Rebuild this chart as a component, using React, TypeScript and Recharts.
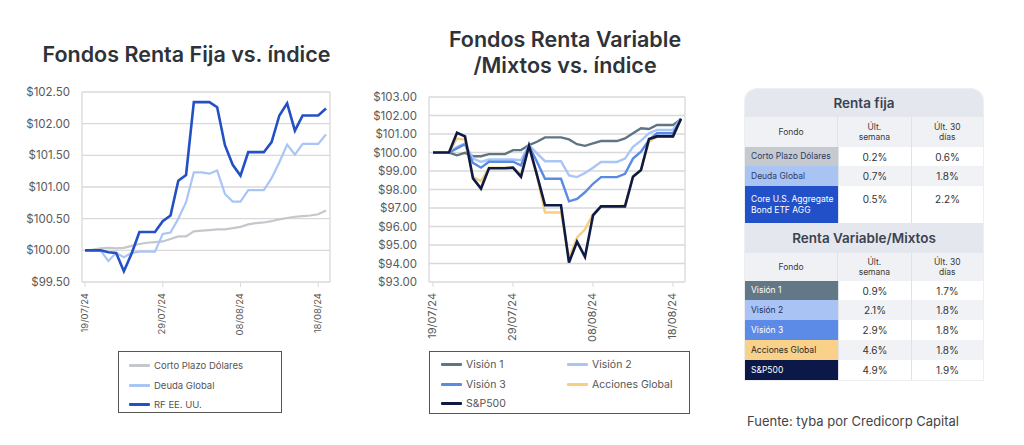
import React from "react";
import { LineChart, Line, XAxis, YAxis, CartesianGrid } from "recharts";

const FONT = "Inter, 'Noto Sans', sans-serif";

const dates = [
  "19/07/24", "20/07/24", "21/07/24", "22/07/24", "23/07/24", "24/07/24", "25/07/24", "26/07/24",
  "27/07/24", "28/07/24", "29/07/24", "30/07/24", "31/07/24", "01/08/24", "02/08/24", "03/08/24",
  "04/08/24", "05/08/24", "06/08/24", "07/08/24", "08/08/24", "09/08/24", "10/08/24", "11/08/24",
  "12/08/24", "13/08/24", "14/08/24", "15/08/24", "16/08/24", "17/08/24", "18/08/24", "19/08/24",
];

// Renta fija
const cortoPlazo = [100.0, 100.01, 100.03, 100.04, 100.03, 100.04, 100.07, 100.1, 100.12, 100.13, 100.14, 100.18, 100.22, 100.22, 100.3, 100.31, 100.32, 100.33, 100.33, 100.35, 100.37, 100.41, 100.43, 100.44, 100.46, 100.49, 100.51, 100.53, 100.54, 100.55, 100.57, 100.63];
const deudaGlobal = [100.0, 100.0, 100.0, 99.83, 99.96, 99.89, 99.96, 99.98, 99.98, 99.98, 100.26, 100.28, 100.5, 100.76, 101.23, 101.23, 101.21, 101.26, 100.89, 100.77, 100.77, 100.95, 100.95, 100.95, 101.14, 101.39, 101.67, 101.51, 101.68, 101.68, 101.68, 101.83];
const rfEEUU = [100.0, 100.0, 100.0, 99.97, 99.96, 99.67, 99.95, 100.29, 100.29, 100.29, 100.46, 100.55, 101.1, 101.19, 102.34, 102.34, 102.34, 102.26, 101.66, 101.35, 101.18, 101.55, 101.55, 101.55, 101.71, 102.13, 102.32, 101.89, 102.13, 102.13, 102.13, 102.24];

// Renta variable / mixtos
const vision1 = [100.0, 100.0, 100.0, 99.85, 99.98, 99.8, 99.8, 99.91, 99.91, 99.91, 100.13, 100.13, 100.4, 100.58, 100.82, 100.82, 100.82, 100.71, 100.45, 100.36, 100.49, 100.62, 100.62, 100.62, 100.76, 101.04, 101.31, 101.27, 101.49, 101.49, 101.49, 101.8];
const vision2 = [100.0, 100.0, 100.0, 100.31, 100.49, 99.67, 99.49, 99.62, 99.62, 99.62, 99.62, 99.58, 100.4, 99.95, 99.53, 99.53, 99.53, 98.76, 98.67, 98.89, 99.18, 99.49, 99.49, 99.49, 99.67, 100.31, 100.64, 101.04, 101.22, 101.22, 101.22, 101.85];
const vision3 = [100.0, 100.0, 100.0, 100.22, 100.45, 99.44, 99.18, 99.5, 99.5, 99.5, 99.5, 99.3, 100.35, 99.5, 98.58, 98.58, 98.58, 97.36, 97.49, 97.85, 98.31, 98.67, 98.67, 98.67, 98.85, 99.67, 100.04, 100.67, 101.04, 101.04, 101.04, 101.8];
const accionesGlobal = [100.0, 100.0, 100.0, 100.76, 100.7, 98.67, 98.45, 99.18, 99.18, 99.18, 99.18, 98.8, 100.3, 98.7, 96.76, 96.76, 96.76, 94.3, 95.4, 95.85, 96.67, 97.07, 97.07, 97.07, 97.15, 98.7, 99.05, 100.58, 100.85, 100.85, 100.85, 101.8];
const sp500 = [100.0, 100.0, 100.0, 101.07, 100.87, 98.6, 98.05, 99.15, 99.15, 99.15, 99.18, 98.69, 100.36, 98.78, 97.15, 97.15, 97.15, 94.05, 95.18, 94.36, 96.6, 97.09, 97.09, 97.09, 97.09, 98.69, 99.05, 100.73, 100.87, 100.87, 100.87, 101.82];

const rfTicks = [99.5, 100, 100.5, 101, 101.5, 102, 102.5];
const rvTicks = [93, 94, 95, 96, 97, 98, 99, 100, 101, 102, 103];

const rfSeries = [
  { key: "corto", name: "Corto Plazo Dólares", values: cortoPlazo, color: "#c4c8cd", width: 2.2 },
  { key: "deuda", name: "Deuda Global", values: deudaGlobal, color: "#a9c5f6", width: 2.2 },
  { key: "rf", name: "RF EE. UU.", values: rfEEUU, color: "#2450c6", width: 2.6 },
];
const rvSeries = [
  { key: "v1", name: "Visión 1", values: vision1, color: "#5f7583", width: 2.4 },
  { key: "v2", name: "Visión 2", values: vision2, color: "#a9c6f7", width: 2.4 },
  { key: "v3", name: "Visión 3", values: vision3, color: "#5a8ae4", width: 2.4 },
  { key: "ag", name: "Acciones Global", values: accionesGlobal, color: "#f8cf80", width: 2.4 },
  { key: "sp", name: "S&P500", values: sp500, color: "#0c1a44", width: 2.6 },
];

const rfData = dates.map((d, i) => {
  const row: any = { date: d };
  rfSeries.forEach((s) => (row[s.key] = s.values[i]));
  return row;
});
const rvData = dates.map((d, i) => {
  const row: any = { date: d };
  rvSeries.forEach((s) => (row[s.key] = s.values[i]));
  return row;
});

// Table data
const rfFunds = ["Corto Plazo Dólares", "Deuda Global", "Core U.S. Aggregate Bond ETF AGG"];
const rfWeek = ["0.2%", "0.7%", "0.5%"];
const rf30 = ["0.6%", "1.8%", "2.2%"];
const rfFundColors = ["#c5cad1", "#a9c3f3", "#2150c8"];
const rfFundText = ["#2c3b66", "#2c3b66", "#ffffff"];
const rfRowHeights = [19, 20, 37];

const rvFunds = ["Visión 1", "Visión 2", "Visión 3", "Acciones Global", "S&P500"];
const rvWeek = ["0.9%", "2.1%", "2.9%", "4.6%", "4.9%"];
const rv30 = ["1.7%", "1.8%", "1.8%", "1.8%", "1.9%"];
const rvFundColors = ["#627886", "#a9c4f4", "#5b8be6", "#f9d189", "#0b1848"];
const rvFundText = ["#ffffff", "#1f2d58", "#ffffff", "#2a2a2a", "#ffffff"];
const rvRowHeights = [19, 20, 20, 20, 20];

const YTick = (props: any) => {
  const { x, y, payload } = props;
  return (
    <text x={x - 12} y={y} textAnchor="end" dominantBaseline="central" fontSize={11.5} fill="#5a5a5a" fontFamily={FONT}>
      {"$" + Number(payload.value).toFixed(2)}
    </text>
  );
};

const makeXTick = (fs: number) => (props: any) => {
  const { x, y, payload } = props;
  const y0 = y + 6;
  return (
    <text
      x={x - 1}
      y={y0}
      transform={`rotate(-90 ${x - 1} ${y0})`}
      textAnchor="end"
      dominantBaseline="central"
      fontSize={fs}
      fill="#5a5a5a"
      fontFamily={FONT}
    >
      {payload.value}
    </text>
  );
};

const edgeLines = ({ offset }: any) => [offset.left, offset.left + offset.width];

const Swatch = ({ color }: { color: string }) => (
  <span style={{ display: "inline-block", width: 21, height: 3, background: color, borderRadius: 1, marginRight: 4, verticalAlign: "middle" }} />
);

const Table = () => {
  const colW = [93, 73, 72];
  const sep = "1px solid #dfe2e7";
  const sectionTitle = (t: string, h: number) => (
    <div style={{ height: h, background: "#e4e7ee", display: "flex", alignItems: "center", justifyContent: "center", fontSize: 13.5, fontWeight: 600, color: "#3c4250" }}>
      {t}
    </div>
  );
  const header = (h: number) => (
    <div style={{ display: "flex", height: h, background: "#eff1f5", fontSize: 8.5, color: "#3a3a3a", lineHeight: "10px" }}>
      <div style={{ width: colW[0], display: "flex", alignItems: "center", justifyContent: "center" }}>Fondo</div>
      <div style={{ width: colW[1], borderLeft: sep, display: "flex", alignItems: "center", justifyContent: "center", textAlign: "center" }}>
        Últ.<br />semana
      </div>
      <div style={{ width: colW[2], borderLeft: sep, display: "flex", alignItems: "center", justifyContent: "center", textAlign: "center" }}>
        Últ. 30<br />días
      </div>
    </div>
  );
  const rows = (funds: string[], w: string[], m: string[], bg: string[], fg: string[], hs: number[]) =>
    funds.map((f, i) => {
      const cellBg = i % 2 === 1 ? "#f1f2f5" : "#ffffff";
      const tall = hs[i] > 25;
      const numStyle: any = {
        background: cellBg,
        borderLeft: sep,
        display: "flex",
        alignItems: tall ? "flex-start" : "center",
        paddingTop: tall ? 7 : 0,
        boxSizing: "border-box",
        justifyContent: "center",
        fontSize: 10,
        color: "#333",
      };
      return (
        <div key={f} style={{ display: "flex", height: hs[i] }}>
          <div style={{ width: colW[0], background: bg[i], color: fg[i], fontSize: 8.5, display: "flex", alignItems: "center", paddingLeft: 6, boxSizing: "border-box", lineHeight: "11px" }}>
            {f}
          </div>
          <div style={{ ...numStyle, width: colW[1] }}>{w[i]}</div>
          <div style={{ ...numStyle, width: colW[2] }}>{m[i]}</div>
        </div>
      );
    });
  return (
    <div style={{ position: "absolute", left: 745, top: 89, width: 238, borderRadius: "12px 12px 0 0", overflow: "hidden", background: "#fff", boxShadow: "0 0 0 1px #eceef2" }}>
      {sectionTitle("Renta fija", 28)}
      {header(30)}
      {rows(rfFunds, rfWeek, rf30, rfFundColors, rfFundText, rfRowHeights)}
      {sectionTitle("Renta Variable/Mixtos", 30)}
      {header(28)}
      {rows(rvFunds, rvWeek, rv30, rvFundColors, rvFundText, rvRowHeights)}
    </div>
  );
};

export default function App() {
  return (
    <div style={{ position: "relative", width: 1024, height: 445, background: "#fff", fontFamily: FONT, overflow: "hidden" }}>
      <style>{"body{margin:0}"}</style>

      {/* Left title */}
      <div style={{ position: "absolute", left: 0, top: 42, width: 373, textAlign: "center", fontSize: 21.5, lineHeight: "24px", fontWeight: 600, color: "#2f3338" }}>
        Fondos Renta Fija vs. índice
      </div>

      {/* Middle title */}
      <div style={{ position: "absolute", left: 415, top: 26, width: 300, textAlign: "center", fontSize: 21.5, lineHeight: "26px", fontWeight: 600, color: "#2f3338" }}>
        Fondos Renta Variable
        <br />
        /Mixtos vs. índice
      </div>

      {/* Left chart */}
      <div style={{ position: "absolute", left: 0, top: 80 }}>
        <LineChart width={345} height={270} data={rfData} margin={{ top: 12, right: 15, left: 0, bottom: 0 }}>
          <CartesianGrid stroke="#d9d9d9" strokeWidth={1.3} verticalCoordinatesGenerator={edgeLines} />
          <XAxis
            dataKey="date"
            interval={9}
            height={68}
            padding={{ left: 3, right: 4 }}
            axisLine={false}
            tickSize={5}
            tickMargin={0}
            tickLine={{ stroke: "#d9d9d9" }}
            tick={makeXTick(9.5)}
          />
          <YAxis
            domain={[99.5, 102.5]}
            ticks={rfTicks}
            interval={0}
            width={82}
            axisLine={false}
            tickLine={false}
            tickSize={0}
            tickMargin={0}
            tick={<YTick />}
          />
          {rfSeries.map((s) => (
            <Line key={s.key} type="linear" dataKey={s.key} name={s.name} stroke={s.color} strokeWidth={s.width} dot={false} isAnimationActive={false} />
          ))}
        </LineChart>
      </div>

      {/* Left legend */}
      <div style={{ position: "absolute", left: 118, top: 351, width: 164, height: 62, boxSizing: "border-box", border: "1.3px solid #555", background: "#fff", fontSize: 9.5, color: "#555", paddingLeft: 10, paddingTop: 4 }}>
        {rfSeries.map((s) => (
          <div key={s.key} style={{ height: 19.5, display: "flex", alignItems: "center" }}>
            <Swatch color={s.color} />
            {s.name}
          </div>
        ))}
      </div>

      {/* Middle chart */}
      <div style={{ position: "absolute", left: 347, top: 85 }}>
        <LineChart width={345} height={270} data={rvData} margin={{ top: 12, right: 7, left: 0, bottom: 0 }}>
          <CartesianGrid stroke="#d9d9d9" strokeWidth={1.3} verticalCoordinatesGenerator={edgeLines} />
          <XAxis
            dataKey="date"
            interval={9}
            height={73}
            padding={{ left: 4, right: 4 }}
            axisLine={false}
            tickSize={5}
            tickMargin={0}
            tickLine={{ stroke: "#d9d9d9" }}
            tick={makeXTick(11)}
          />
          <YAxis
            domain={[93, 103]}
            ticks={rvTicks}
            interval={0}
            width={82}
            axisLine={false}
            tickLine={false}
            tickSize={0}
            tickMargin={0}
            tick={<YTick />}
          />
          {rvSeries.map((s) => (
            <Line key={s.key} type="linear" dataKey={s.key} name={s.name} stroke={s.color} strokeWidth={s.width} dot={false} isAnimationActive={false} />
          ))}
        </LineChart>
      </div>

      {/* Middle legend */}
      <div style={{ position: "absolute", left: 429, top: 351, width: 261, height: 63, boxSizing: "border-box", border: "1.3px solid #555", background: "#fff", fontSize: 10.5, color: "#555", paddingLeft: 11, paddingTop: 3, display: "grid", gridTemplateColumns: "126px 120px", gridAutoRows: "19.5px" }}>
        {rvSeries.map((s) => (
          <div key={s.key} style={{ display: "flex", alignItems: "center" }}>
            <Swatch color={s.color} />
            {s.name}
          </div>
        ))}
      </div>

      <Table />

      {/* Footer */}
      <div style={{ position: "absolute", left: 747, top: 413, fontSize: 13, color: "#444", whiteSpace: "nowrap" }}>
        Fuente: tyba por Credicorp Capital
      </div>
    </div>
  );
}
